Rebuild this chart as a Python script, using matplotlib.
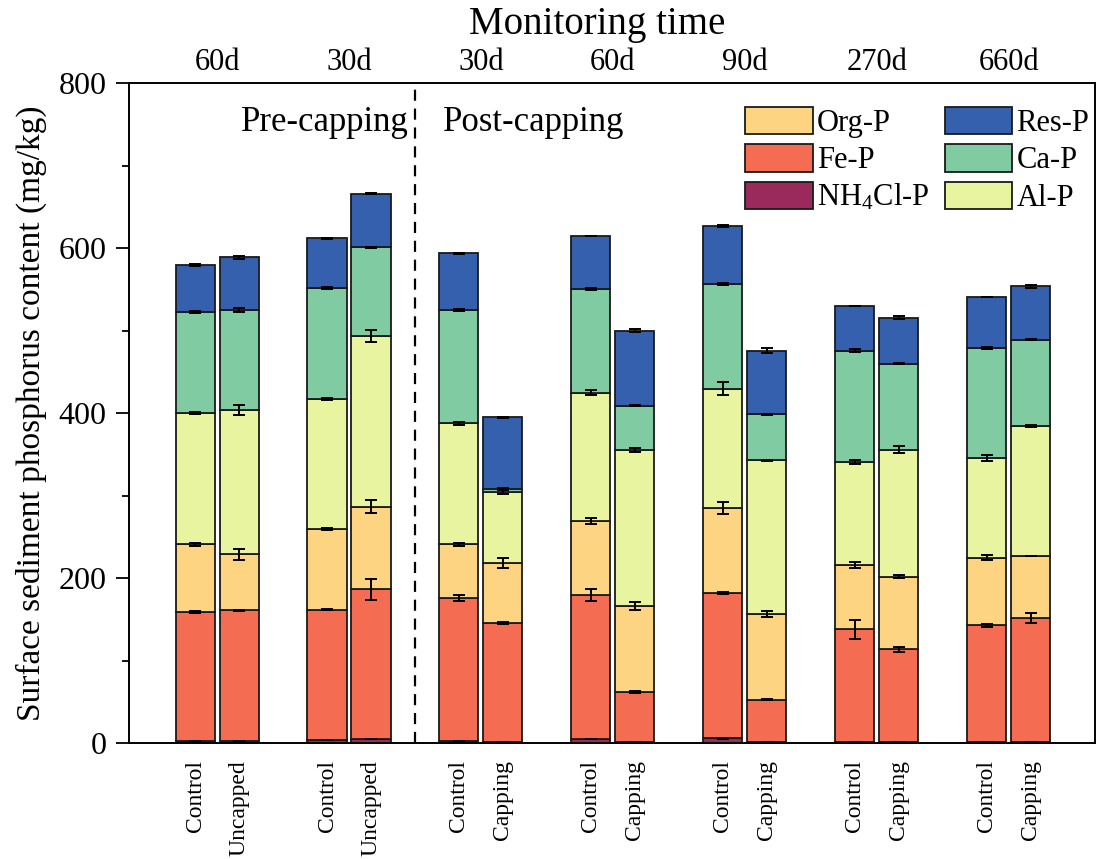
import numpy as np
import matplotlib
matplotlib.use('Agg')
import matplotlib.pyplot as plt

plt.rcParams['font.family'] = ['Liberation Serif', 'DejaVu Serif']
plt.rcParams['mathtext.default'] = 'regular'

# sample labels (bottom) and monitoring times (top, one per pair)
samples = ['Control', 'Uncapped', 'Control', 'Uncapped', 'Control', 'Capping',
           'Control', 'Capping', 'Control', 'Capping', 'Control', 'Capping',
           'Control', 'Capping']
times = ['60d', '30d', '30d', '60d', '90d', '270d', '660d']

# phosphorus fractions, mg/kg (stacked bottom -> top)
nh4cl_p = [3, 3, 4, 5, 3, 1, 5.5, 1, 6, 1, 1, 1, 1, 1]
fe_p = [156, 158, 158, 182, 173, 145, 174.5, 61, 176, 52, 137, 113, 142, 151]
org_p = [82, 68, 98, 100, 65, 73, 90, 104, 103, 104, 78, 88, 82, 75]
al_p = [159, 175, 157, 207, 147, 86, 155, 190, 145, 186, 125, 154, 121, 158]
ca_p = [123, 121, 135, 107, 137, 3, 126, 53, 127, 56, 135, 104, 133, 104]
res_p = [57, 64, 60, 65, 69, 87, 64, 91, 70, 77, 54, 56, 62, 65]

# standard deviations drawn at the top of each fraction
nh4cl_err = [0.3] * 14
fe_err = [1, 1, 1, 12.7, 3.8, 1, 7, 1, 1.5, 1, 11.5, 3, 1.5, 6]
org_err = [1.5, 6.9, 1.5, 8, 1.5, 6, 3.6, 5, 6.9, 3.4, 3.8, 2.2, 3, 0]
al_err = [1, 6.5, 1, 7.5, 2, 2.4, 2.8, 2.4, 7.5, 1, 2, 4, 4, 1]
ca_err = [1.5, 2.8, 1, 1, 1.5, 1.5, 1, 0.5, 1.5, 0.5, 1.5, 0.5, 1.5, 0.5]
res_err = [1, 1.5, 0.5, 0.5, 0.5, 1, 0.5, 2, 1, 3.2, 0.5, 1.5, 0.5, 2]

fractions = [
    ('NH$_4$Cl-P', nh4cl_p, nh4cl_err, '#9b2a5c'),
    ('Fe-P', fe_p, fe_err, '#f46d53'),
    ('Org-P', org_p, org_err, '#fdd481'),
    ('Al-P', al_p, al_err, '#e8f4a0'),
    ('Ca-P', ca_p, ca_err, '#80cba2'),
    ('Res-P', res_p, res_err, '#3560ae'),
]

pair_x = np.arange(1, len(times) + 1)
x = np.repeat(pair_x, 2) + np.tile([-1 / 6, 1 / 6], len(times))
width = 0.296

fig = plt.figure(figsize=(10.97, 8.59), dpi=100)
ax = fig.add_axes([0.1179, 0.1347, 0.8803, 0.7683])

bottom = np.zeros(len(samples))
handles = {}
for name, vals, err, color in fractions:
    vals = np.array(vals, dtype=float)
    bars = ax.bar(x, vals, width, bottom=bottom, color=color,
                  edgecolor='#1a1a1a', linewidth=1.3, label=name, zorder=2)
    handles[name] = bars
    ax.errorbar(x, bottom + vals, yerr=err, fmt='none', ecolor='black',
                elinewidth=1.4, capsize=4, capthick=1.4, zorder=3)
    bottom += vals

ax.set_xlim(0.335, 7.655)
ax.set_ylim(0, 800)
ax.set_yticks(np.arange(0, 801, 200))
ax.set_yticks(np.arange(100, 800, 200), minor=True)
ax.tick_params(axis='y', which='major', direction='out', length=9.5, width=1.3,
               labelsize=23, pad=7)
ax.tick_params(axis='y', which='minor', direction='out', length=5, width=1.3)
ax.set_xticks(x)
ax.set_xticklabels(samples, rotation=90, fontsize=17)
ax.tick_params(axis='x', length=0, pad=12)
for s in ax.spines.values():
    s.set_linewidth(1.4)

ax.set_ylabel('Surface sediment phosphorus content (mg/kg)', fontsize=24,
              labelpad=8)

# monitoring times along the top
for px, t in zip(pair_x, times):
    ax.text(px, 1.032, t, transform=ax.get_xaxis_transform(), ha='center',
            va='center', fontsize=22)
fig.text(0.544, 0.971, 'Monitoring time', ha='center', va='center', fontsize=28)

# split between before and after capping
ax.axvline(2.5, color='black', linestyle=(0, (5, 3.5)), linewidth=1.6, zorder=1)
ax.text(2.45, 752, 'Pre-capping', ha='right', va='center', fontsize=25)
ax.text(2.71, 752, 'Post-capping', ha='left', va='center', fontsize=25)

order = ['Org-P', 'Fe-P', 'NH$_4$Cl-P', 'Res-P', 'Ca-P', 'Al-P']
ax.legend([handles[k] for k in order], order, ncol=2, frameon=False,
          loc='upper left', bbox_to_anchor=(745 / 1097, 1 - 107 / 859),
          bbox_transform=fig.transFigure, borderpad=0, borderaxespad=0,
          fontsize=22, handlelength=2.22, handleheight=1.0,
          labelspacing=0.2, handletextpad=0.13, columnspacing=0.5)

fig.savefig('out.png', dpi=100)
